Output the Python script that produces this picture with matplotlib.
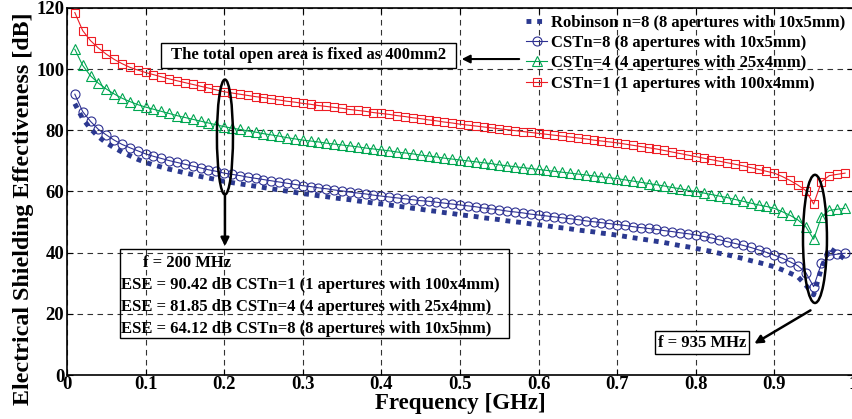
import matplotlib
matplotlib.use("Agg")
import matplotlib.pyplot as plt
from matplotlib.patches import Ellipse, Rectangle
import numpy as np

plt.rcParams['font.family'] = ['Liberation Serif', 'DejaVu Serif']
plt.rcParams['font.weight'] = 'bold'

# frequency points, 0.01 .. 0.99 GHz
freq = np.arange(1, 100) / 100.0

cst_n1 = [118.5, 112.6, 109.3, 106.9, 104.9, 103.2, 101.8, 100.6, 99.7, 98.9,
          98.2, 97.5, 96.8, 96.2, 95.6, 95.0, 94.4, 93.8, 93.2, 92.6,
          92.2, 91.8, 91.4, 91.0, 90.7, 90.3, 89.9, 89.5, 89.2, 88.8,
          88.5, 88.1, 87.8, 87.5, 87.2, 86.8, 86.5, 86.2, 85.8, 85.5,
          85.2, 84.8, 84.5, 84.1, 83.8, 83.4, 83.1, 82.7, 82.4, 82.0,
          81.7, 81.4, 81.1, 80.8, 80.5, 80.2, 79.9, 79.6, 79.3, 79.0,
          78.7, 78.4, 78.1, 77.8, 77.5, 77.2, 76.8, 76.5, 76.2, 75.9,
          75.5, 75.1, 74.7, 74.3, 73.9, 73.4, 72.9, 72.4, 71.9, 71.4,
          70.9, 70.4, 69.9, 69.4, 68.9, 68.4, 67.8, 67.2, 66.6, 66.0,
          64.9, 63.6, 62.1, 60.3, 55.9, 63.2, 65.2, 65.6, 66.0]

cst_n4 = [106.5, 101.2, 97.8, 95.4, 93.5, 91.9, 90.5, 89.4, 88.4, 87.6,
          86.9, 86.2, 85.5, 84.8, 84.2, 83.6, 83.0, 82.4, 81.8, 81.2,
          80.7, 80.3, 79.8, 79.4, 78.9, 78.5, 78.1, 77.6, 77.2, 76.8,
          76.5, 76.2, 75.8, 75.5, 75.2, 74.9, 74.6, 74.2, 73.9, 73.6,
          73.3, 72.9, 72.6, 72.3, 71.9, 71.6, 71.3, 70.9, 70.6, 70.3,
          70.0, 69.7, 69.4, 69.1, 68.7, 68.4, 68.1, 67.8, 67.5, 67.2,
          66.9, 66.6, 66.3, 66.0, 65.7, 65.4, 65.1, 64.8, 64.5, 64.2,
          63.8, 63.4, 63.0, 62.6, 62.2, 61.8, 61.3, 60.9, 60.4, 60.0,
          59.5, 59.0, 58.5, 58.0, 57.4, 56.8, 56.2, 55.6, 55.1, 54.5,
          53.4, 52.2, 50.7, 48.5, 44.4, 51.8, 53.8, 54.2, 54.5]

cst_n8 = [91.8, 86.1, 82.9, 80.3, 78.5, 76.8, 75.4, 74.3, 73.3, 72.3,
          71.5, 70.8, 70.1, 69.5, 68.9, 68.3, 67.7, 67.1, 66.6, 66.0,
          65.6, 65.2, 64.7, 64.3, 63.9, 63.5, 63.1, 62.7, 62.3, 61.9,
          61.6, 61.2, 60.9, 60.5, 60.2, 59.8, 59.5, 59.2, 58.8, 58.5,
          58.2, 57.9, 57.6, 57.3, 57.0, 56.8, 56.5, 56.2, 55.9, 55.6,
          55.3, 55.0, 54.6, 54.3, 54.0, 53.6, 53.3, 53.0, 52.6, 52.3,
          52.0, 51.7, 51.4, 51.1, 50.8, 50.4, 50.1, 49.8, 49.5, 49.2,
          48.9, 48.5, 48.2, 47.9, 47.6, 47.2, 46.9, 46.5, 46.2, 45.8,
          45.3, 44.8, 44.2, 43.6, 43.0, 42.4, 41.7, 40.9, 40.1, 39.2,
          38.2, 37.0, 35.7, 33.5, 28.9, 36.5, 39.2, 39.5, 39.8]

robinson_n8 = [88.7, 83.8, 80.5, 77.9, 75.9, 74.3, 72.9, 71.7, 70.5, 69.5,
               68.7, 68.0, 67.3, 66.7, 66.1, 65.5, 64.9, 64.4, 63.9, 63.3,
               62.9, 62.5, 62.1, 61.7, 61.3, 60.9, 60.5, 60.1, 59.7, 59.3,
               59.0, 58.6, 58.3, 57.9, 57.6, 57.3, 56.9, 56.6, 56.2, 55.9,
               55.6, 55.2, 54.9, 54.5, 54.2, 53.8, 53.5, 53.1, 52.8, 52.4,
               52.1, 51.8, 51.4, 51.1, 50.8, 50.4, 50.1, 49.8, 49.4, 49.1,
               48.8, 48.4, 48.1, 47.8, 47.4, 47.1, 46.8, 46.4, 46.1, 45.7,
               45.3, 44.9, 44.5, 44.1, 43.7, 43.3, 42.8, 42.3, 41.9, 41.4,
               40.9, 40.4, 39.8, 39.3, 38.7, 38.1, 37.4, 36.8, 36.1, 35.4,
               34.4, 33.3, 32.1, 29.4, 26.2, 35.0, 41.5, 39.8, 37.8]

labels = ['Robinson n=8 (8 apertures with 10x5mm)',
          'CSTn=8 (8 apertures with 10x5mm)',
          'CSTn=4 (4 apertures with 25x4mm)',
          'CSTn=1 (1 apertures with 100x4mm)']

ese_lines = ['ESE = 90.42 dB CSTn=1 (1 apertures with 100x4mm)',
             'ESE = 81.85 dB CSTn=4 (4 apertures with 25x4mm)',
             'ESE = 64.12 dB CSTn=8 (8 apertures with 10x5mm)']

fig = plt.figure(figsize=(8.52, 4.19), dpi=100)
ax = fig.add_axes([0.0786, 0.105, 0.9225, 0.876])

ax.plot(freq, robinson_n8, color='#2b3990', lw=3.5, linestyle=(0, (1, 1.2)),
        dash_capstyle='butt', label=labels[0], zorder=3)
ax.plot(freq, cst_n8, color='#2e3192', lw=0.8, marker='o', ms=6.5,
        mfc='none', mew=0.8, label=labels[1], zorder=4)
ax.plot(freq, cst_n4, color='#00a651', lw=0.8, marker='^', ms=6.5,
        mfc='none', mew=0.8, label=labels[2], zorder=4)
ax.plot(freq, cst_n1, color='#ed1c24', lw=0.8, marker='s', ms=6,
        mfc='none', mew=0.8, label=labels[3], zorder=4)

ax.set_xlim(0, 1)
ax.set_ylim(0, 120)
ax.set_xticks(np.arange(0, 1.01, 0.1))
ax.set_xticklabels(['0', '0.1', '0.2', '0.3', '0.4', '0.5', '0.6', '0.7', '0.8', '0.9', '1'])
ax.set_yticks(np.arange(0, 121, 20))
ax.tick_params(direction='in', labelsize=13.5, length=4, top=True, right=True, pad=1)
ax.tick_params(axis='y', pad=2)
for t in ax.get_xticklabels() + ax.get_yticklabels():
    t.set_fontweight('bold')
ax.grid(True, color='#333333', linestyle=(0, (5, 4)), lw=0.8)
for s in ax.spines.values():
    s.set_linewidth(1.2)

ax.set_xlabel('Frequency [GHz]', fontsize=16.5, fontweight='bold', labelpad=0)
ax.set_ylabel('Electrical Shielding Effectiveness [dB]', fontsize=17.3,
              fontweight='bold')
ax.yaxis.set_label_coords(-0.042, 0.452)

leg = ax.legend(loc='upper right', bbox_to_anchor=(850 / 852, 1 - 10 / 419),
                bbox_transform=fig.transFigure, borderaxespad=0, fancybox=False,
                edgecolor='black', framealpha=0, handlelength=1.3,
                handletextpad=0.2, labelspacing=0.25, borderpad=0.3,
                prop={'size': 12, 'weight': 'bold'})
leg.get_frame().set_linewidth(1.0)

# open-area note with arrow from the legend
ax.add_patch(Rectangle((0.1196, 100.4), 0.375, 8.2, fill=False, ec='black', lw=1, zorder=5))
ax.text(0.307, 104.5, 'The total open area is fixed as 400mm2', ha='center', va='center',
        fontsize=12, fontweight='bold', zorder=6)
ax.annotate('', xy=(0.4987, 103.3), xytext=(0.5789, 103.3),
            arrowprops=dict(arrowstyle='-|>', color='black', lw=1.5, mutation_scale=12))

# ellipse at 200 MHz
ax.add_patch(Ellipse((0.201, 77.8), 0.0204, 37.6, fill=False, ec='black', lw=1.8, zorder=6))
ax.annotate('', xy=(0.201, 41.2), xytext=(0.201, 59.5),
            arrowprops=dict(arrowstyle='-|>', color='black', lw=1.8, mutation_scale=12))
ax.add_patch(Rectangle((0.068, 12.1), 0.495, 29.1, fill=False, ec='black', lw=1, zorder=5))
ax.text(0.097, 36.6, 'f = 200 MHz', ha='left', va='center', fontsize=12,
        fontweight='bold', zorder=6)
for i, line in enumerate(ese_lines):
    ax.text(0.069, 29.4 - 7.1 * i, line, ha='left', va='center', fontsize=12,
            fontweight='bold', zorder=6)

# ellipse at 935 MHz
ax.add_patch(Ellipse((0.9517, 44.5), 0.0305, 41.9, fill=False, ec='black', lw=1.8, zorder=6))
ax.annotate('', xy=(0.8715, 9.8), xytext=(0.949, 21.6),
            arrowprops=dict(arrowstyle='-|>', color='black', lw=1.8, mutation_scale=12))
ax.add_patch(Rectangle((0.748, 6.9), 0.12, 7.5, fill=True, fc='white', ec='black', lw=1, zorder=5))
ax.text(0.808, 10.6, 'f = 935 MHz', ha='center', va='center', fontsize=12,
        fontweight='bold', zorder=6)

fig.savefig('out.png', dpi=100)
